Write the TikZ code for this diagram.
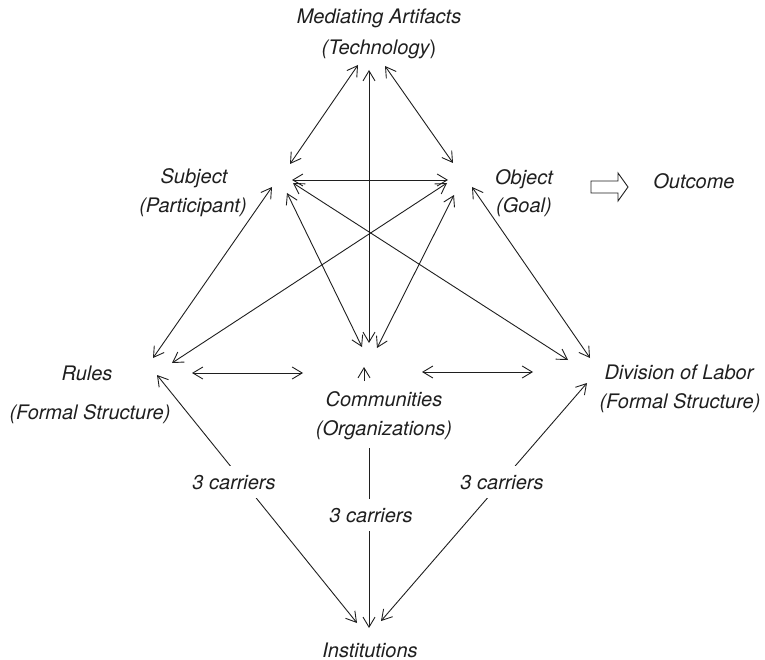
\documentclass[tikz,border=0pt]{standalone}
\usepackage{fontspec}
\setmainfont{TeX Gyre Heros}
\usetikzlibrary{arrows.meta}
\tikzset{
  barb/.tip={Straight Barb[length=10pt,width=12pt]},
  conn/.style={line width=0.9pt, draw=black!88},
  both/.style={conn, barb-barb},
  fwd/.style={conn, -barb},
  lbl/.style={font=\fontsize{20}{24}\selectfont\itshape, inner sep=0pt, anchor=base, text=black!88},
  carrier/.style={lbl, fill=white, inner xsep=3pt, inner ysep=9pt},
  blockarrow/.style={line width=0.9pt, draw=black!88, fill=white, line join=miter}
}
\begin{document}
\begin{tikzpicture}[x=1pt,y=-1pt]
\useasboundingbox (0,0) rectangle (765,660);
% end points
\coordinate (maL) at (358,65);
\coordinate (maC) at (369,70);
\coordinate (maR) at (385,66);
\coordinate (sT) at (290,164);
\coordinate (sH) at (292,180);
\coordinate (sD) at (293,183);
\coordinate (sC) at (287,193);
\coordinate (sR) at (272,187);
\coordinate (oT) at (453,163);
\coordinate (oH) at (448,180);
\coordinate (oR) at (447,183);
\coordinate (oC) at (454,195);
\coordinate (oD) at (472,187);
\coordinate (rS) at (153,358);
\coordinate (rO) at (172,363);
\coordinate (rC) at (192,373);
\coordinate (rI) at (157,375);
\coordinate (cV) at (369,343);
\coordinate (cS) at (362,347);
\coordinate (cO) at (377,348);
\coordinate (cR) at (303,373);
\coordinate (cD) at (422,372);
\coordinate (cUa) at (364,381);
\coordinate (cUb) at (364,367);
\coordinate (cB) at (369,448);
\coordinate (dS) at (568,360);
\coordinate (dO) at (590,358);
\coordinate (dC) at (533,372);
\coordinate (dI) at (587,383);
\coordinate (iL) at (357,623);
\coordinate (iM) at (369,628);
\coordinate (iR) at (381,621);

% connectors
\draw[both] (maL) -- (sT);
\draw[both] (maC) -- (cV);
\draw[both] (maR) -- (oT);
\draw[both] (sH) -- (oH);
\draw[both] (sD) -- (dS);
\draw[both] (sC) -- (cS);
\draw[both] (sR) -- (rS);
\draw[both] (oR) -- (rO);
\draw[both] (oC) -- (cO);
\draw[both] (oD) -- (dO);
\draw[both] (rC) -- (cR);
\draw[both] (cD) -- (dC);
\draw[fwd] (cUa) -- (cUb);
\draw[both] (rI) -- (iL);
\draw[both] (dI) -- (iR);
\draw[fwd] (cB) -- (iM);

% outcome block arrow
\draw[blockarrow] (591,181) -- (618,181) -- (618,173) -- (628,187) -- (618,201) -- (618,193) -- (591,193) -- cycle;

% labels
\node[lbl] (ma1) at (379,24) {Mediating Artifacts};
\node[lbl] (ma2) at (379,55) {(Technology{\upshape )}};
\node[lbl] (subj1) at (194,184) {Subject};
\node[lbl] (subj2) at (193,213) {(Participant)};
\node[lbl] (obj1) at (524,185) {Object};
\node[lbl] (obj2) at (524,213) {(Goal)};
\node[lbl] (outc) at (694,189) {Outcome};
\node[lbl] (rules1) at (87,380) {Rules};
\node[lbl] (rules2) at (90,419) {(Formal Structure)};
\node[lbl] (dol1) at (679,379) {Division of Labor};
\node[lbl] (dol2) at (680,408) {(Formal Structure)};
\node[lbl] (com1) at (384,406) {Communities};
\node[lbl] (com2) at (384,435) {(Organizations)};
\node[carrier] (car1) at (234,489) {3 carriers};
\node[carrier] (car2) at (371,522) {3 carriers};
\node[carrier] (car3) at (502,489) {3 carriers};
\node[lbl] (inst) at (370,657) {Institutions};
\end{tikzpicture}
\end{document}
